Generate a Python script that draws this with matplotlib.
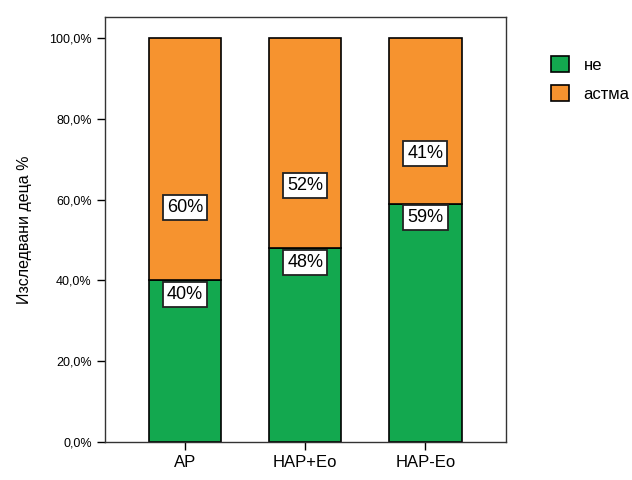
import numpy as np
import matplotlib.pyplot as plt

plt.rcParams['font.family'] = ['Liberation Sans', 'DejaVu Sans']

groups = ["AP", "HAP+Eo", "HAP-Eo"]
ne = [40, 48, 59]
astma = [60, 52, 41]
ticks = [0, 20, 40, 60, 80, 100]

green = "#13a84f"
orange = "#f6932f"

fig = plt.figure(figsize=(6.32, 4.8), dpi=100)
ax = fig.add_axes([0.1661, 0.0792, 0.6345, 0.8854])

x = np.arange(len(groups))
ax.bar(x, ne, width=0.6, color=green, edgecolor="black", linewidth=1.2, label="не", zorder=2)
ax.bar(x, astma, width=0.6, bottom=ne, color=orange, edgecolor="black", linewidth=1.2, label="астма", zorder=2)

# value boxes on each segment
box = dict(boxstyle="square,pad=0.22", facecolor="white", edgecolor="#222222", linewidth=1.3)
for i in range(len(groups)):
    ax.text(x[i], ne[i] - 3.5, f"{ne[i]}%", ha="center", va="center", fontsize=13, bbox=box, zorder=3)
    ax.text(x[i], ne[i] + 0.3 * astma[i], f"{astma[i]}%", ha="center", va="center", fontsize=13, bbox=box, zorder=3)

ax.set_xlim(-0.667, 2.67)
ax.set_ylim(0, 105.2)
ax.set_xticks(x)
ax.set_xticklabels(groups, fontsize=12)
ax.set_yticks(ticks)
ax.set_yticklabels([f"{t:.1f}%".replace(".", ",") for t in ticks], fontsize=9)
ax.tick_params(axis="both", direction="out", length=6, width=1, color="black")
ax.set_ylabel("Изследвани деца %", fontsize=11.5, labelpad=12)

for s in ax.spines.values():
    s.set_color("#333333")
    s.set_linewidth(1)

ax.legend(loc="upper left", bbox_to_anchor=(1.075, 0.943), frameon=False, fontsize=12,
          handlelength=1.05, handleheight=1.05, handletextpad=0.9, labelspacing=0.75)

fig.savefig("out.png", dpi=100)
